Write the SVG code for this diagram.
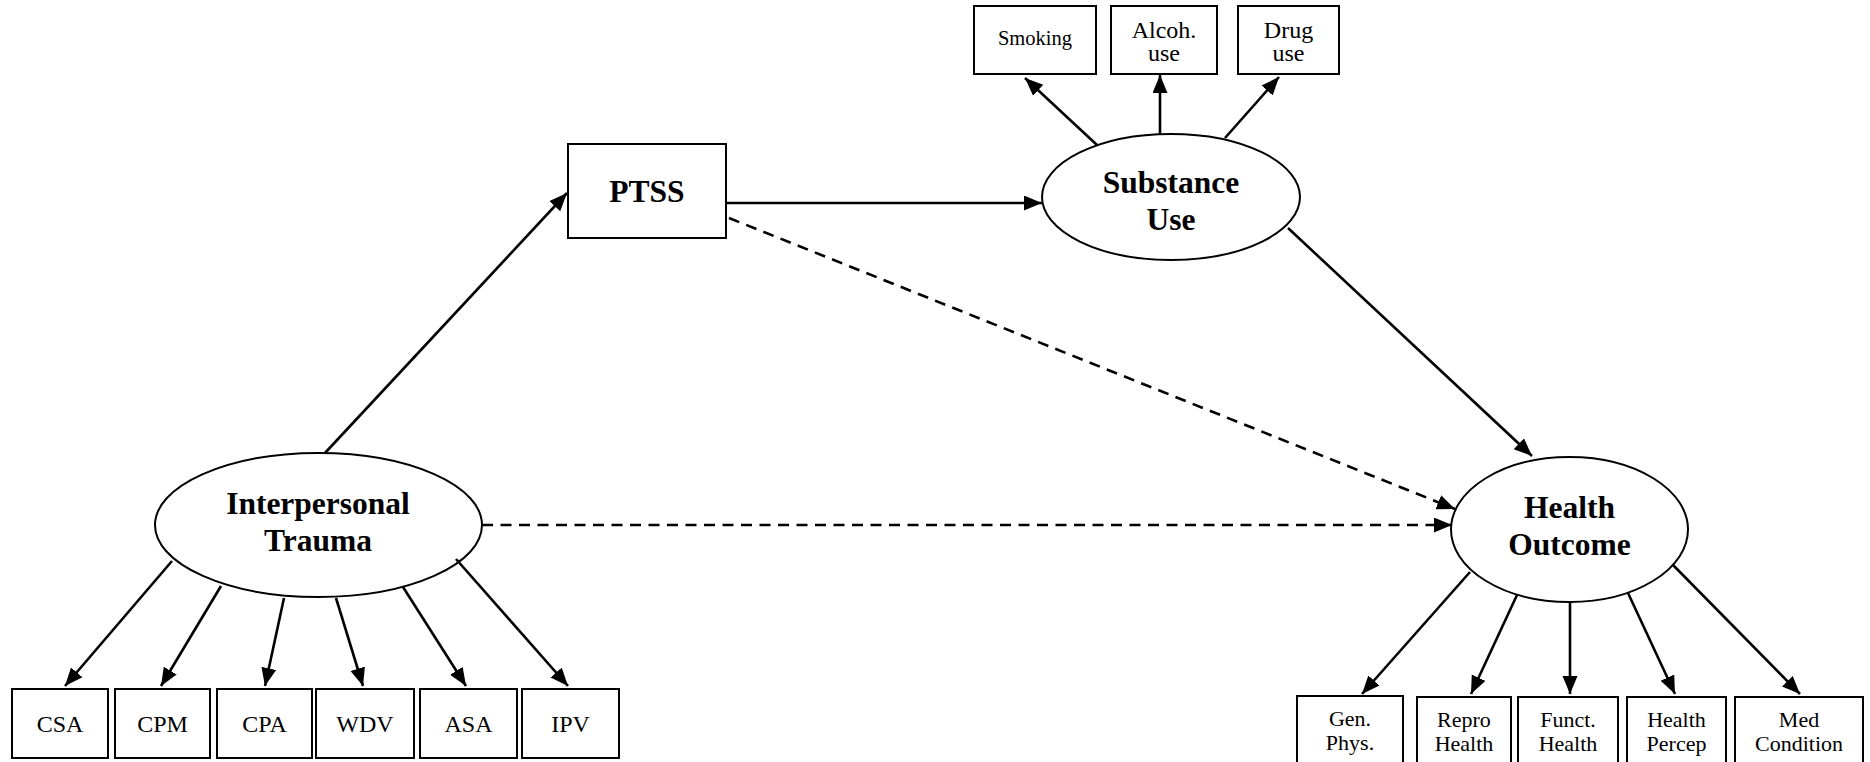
<svg xmlns="http://www.w3.org/2000/svg" width="1870" height="762" viewBox="0 0 1870 762">
<style>
.box{fill:#fff;stroke:#000;stroke-width:2}
.ell{fill:#fff;stroke:#000;stroke-width:2}
.bt{font-family:"Liberation Serif","Times New Roman",serif;font-weight:bold;font-size:31.5px;text-anchor:middle;fill:#000}
.t{font-family:"Liberation Serif","Times New Roman",serif;font-size:24px;text-anchor:middle;fill:#000}
.s{font-family:"Liberation Serif","Times New Roman",serif;font-size:20.5px;text-anchor:middle;fill:#000}
.r{font-family:"Liberation Serif","Times New Roman",serif;font-size:22px;text-anchor:middle;fill:#000}
.m{font-family:"Liberation Serif","Times New Roman",serif;font-size:24px;text-anchor:middle;fill:#000}
.c{stroke:#000;stroke-width:2.6;fill:none;marker-end:url(#ah)}
.d{stroke-dasharray:11 7.5}
</style>
<defs>
<marker id="ah" markerUnits="userSpaceOnUse" markerWidth="19" markerHeight="16" refX="18" refY="7.5" orient="auto">
<path d="M0,0 L18,7.5 L0,15 Z" fill="#000"/>
</marker>
</defs>

<g id="node-ptss"><rect class="box" x="568" y="144" width="158" height="94"/><text class="bt" x="647" y="202">PTSS</text></g>

<g id="node-substance"><ellipse class="ell" cx="1171" cy="197" rx="129" ry="63"/><text class="bt" x="1171" y="193">Substance</text><text class="bt" x="1171" y="230">Use</text></g>
<g id="node-smoking"><rect class="box" x="974" y="6" width="122" height="68"/><text class="s" x="1035" y="45">Smoking</text></g>
<g id="node-alcoh"><rect class="box" x="1111" y="6" width="106" height="68"/><text class="m" x="1164" y="38">Alcoh.</text><text class="m" x="1164" y="61">use</text></g>
<g id="node-drug"><rect class="box" x="1238" y="6" width="101" height="68"/><text class="m" x="1288.5" y="38">Drug</text><text class="m" x="1288.5" y="61">use</text></g>

<g id="node-interpersonal"><ellipse class="ell" cx="318.5" cy="525" rx="163.5" ry="72"/><text class="bt" x="318" y="514">Interpersonal</text><text class="bt" x="318" y="551">Trauma</text></g>
<g id="node-csa"><rect class="box" x="12" y="689" width="96" height="69"/><text class="t" x="60" y="732">CSA</text></g>
<g id="node-cpm"><rect class="box" x="115" y="689" width="95" height="69"/><text class="t" x="162.5" y="732">CPM</text></g>
<g id="node-cpa"><rect class="box" x="217" y="689" width="95" height="69"/><text class="t" x="264.5" y="732">CPA</text></g>
<g id="node-wdv"><rect class="box" x="316" y="689" width="98" height="69"/><text class="t" x="365" y="732">WDV</text></g>
<g id="node-asa"><rect class="box" x="420" y="689" width="97" height="69"/><text class="t" x="468.5" y="732">ASA</text></g>
<g id="node-ipv"><rect class="box" x="522" y="689" width="97" height="69"/><text class="t" x="570.5" y="732">IPV</text></g>

<g id="node-health"><ellipse class="ell" cx="1569.5" cy="529.5" rx="118.5" ry="72.5"/><text class="bt" x="1569.5" y="518">Health</text><text class="bt" x="1569.5" y="555">Outcome</text></g>
<g id="node-gen"><rect class="box" x="1297" y="696" width="106" height="70"/><text class="r" x="1350" y="726">Gen.</text><text class="r" x="1350" y="750">Phys.</text></g>
<g id="node-repro"><rect class="box" x="1417" y="697" width="94" height="70"/><text class="r" x="1464" y="727">Repro</text><text class="r" x="1464" y="751">Health</text></g>
<g id="node-funct"><rect class="box" x="1518" y="697" width="100" height="70"/><text class="r" x="1568" y="727">Funct.</text><text class="r" x="1568" y="751">Health</text></g>
<g id="node-percep"><rect class="box" x="1627" y="697" width="99" height="70"/><text class="r" x="1676.5" y="727">Health</text><text class="r" x="1676.5" y="751">Percep</text></g>
<g id="node-med"><rect class="box" x="1735" y="697" width="128" height="70"/><text class="r" x="1799" y="727">Med</text><text class="r" x="1799" y="751">Condition</text></g>

<g id="connectors">
<line class="c" x1="325" y1="453" x2="567" y2="193"/>
<line class="c" x1="726" y1="203" x2="1042" y2="203"/>
<line class="c" x1="1097" y1="145" x2="1025" y2="78"/>
<line class="c" x1="1160" y1="134" x2="1160" y2="75"/>
<line class="c" x1="1225" y1="138" x2="1279" y2="77"/>
<line class="c" x1="1288" y1="228" x2="1532" y2="456"/>
<line class="c d" x1="729" y1="218" x2="1455" y2="509"/>
<line class="c d" x1="482" y1="525" x2="1452" y2="525"/>
<line class="c" x1="172" y1="561" x2="65" y2="686"/>
<line class="c" x1="221" y1="586" x2="161" y2="686"/>
<line class="c" x1="284" y1="598" x2="265" y2="686"/>
<line class="c" x1="336" y1="598" x2="363" y2="686"/>
<line class="c" x1="403" y1="587" x2="466" y2="686"/>
<line class="c" x1="456" y1="559" x2="568" y2="686"/>
<line class="c" x1="1470" y1="572" x2="1362" y2="694"/>
<line class="c" x1="1517" y1="595" x2="1471" y2="694"/>
<line class="c" x1="1570" y1="602" x2="1570" y2="694"/>
<line class="c" x1="1628" y1="593" x2="1675" y2="694"/>
<line class="c" x1="1673" y1="565" x2="1800" y2="694"/>
</g>
</svg>
